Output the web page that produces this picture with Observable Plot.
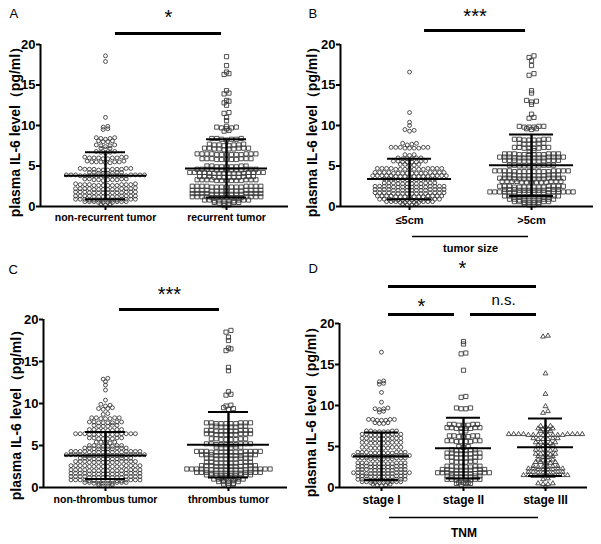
<!DOCTYPE html>
<html><head><meta charset="utf-8">
<script src="https://cdn.jsdelivr.net/npm/d3@7"></script>
<script src="https://cdn.jsdelivr.net/npm/@observablehq/plot@0.6"></script>
<style>
body{margin:0;background:#fff;}
#wrap{position:relative;width:601px;height:544px;overflow:hidden;background:#fff;}
.panel{position:absolute;}
</style></head><body><div id="wrap"></div>
<script>
// ---------- data ----------
const yTicks = [0, 5, 10, 15, 20];
const yLabel = "plasma IL-6 level（pg/ml）";

const categoriesA = ["non-recurrent tumor", "recurrent tumor"];
const categoriesB = ["≤5cm", ">5cm"];
const categoriesC = ["non-thrombus tumor", "thrombus tumor"];
const categoriesD = ["stage I", "stage II", "stage III"];

const meansA = [3.8, 4.7], sdsA = [2.9, 3.6];
const meansB = [3.4, 5.1], sdsB = [2.5, 3.8];
const meansC = [3.8, 5.1], sdsC = [2.8, 3.9];
const meansD = [3.8, 4.8, 4.9], sdsD = [2.9, 3.7, 3.5];

const signifA = [{from: 0, to: 1, label: "*"}];
const signifB = [{from: 0, to: 1, label: "***"}];
const signifC = [{from: 0, to: 1, label: "***"}];
const signifD = [{from: 0, to: 2, label: "*", level: 2}, {from: 0, to: 1, label: "*", level: 1}, {from: 1, to: 2, label: "n.s.", level: 1}];

const groupTitleB = "tumor size";
const groupTitleD = "TNM";

const nonRecurrent = [18.6,17.9,11.0,9.9,9.8,9.6,9.5,
8.5,8.4,8.4,8.5,8.3,8.1,8.0,8.1,8.0,
7.6,7.5,7.5,7.4,7.6,7.2,7.1,7.2,
6.8,6.7,6.7,6.8,6.6,
6.1,6.0,6.0,6.1,5.9,6.0,6.1,5.9,6.0,6.0,
5.5,5.5,5.4,5.6,5.5,5.4,5.5,5.5,5.6,
4.7,4.6,4.6,4.5,4.7,4.6,4.6,4.5,4.7,4.6,4.6,4.5,
4.2,4.1,4.2,4.1,4.2,4.1,4.2,4.1,
3.9,3.8,3.8,3.9,3.8,3.9,3.8,3.8,3.9,3.8,3.9,3.8,3.8,3.8,3.9,3.8,3.8,3.9,
3.4,3.3,3.4,3.3,3.2,3.4,3.3,3.4,3.3,3.3,
2.8,2.7,2.6,2.7,2.6,2.7,2.6,2.7,2.8,2.6,2.7,2.6,2.7,2.6,
2.2,2.1,2.2,2.1,2.2,2.1,2.3,2.2,2.1,2.2,2.1,2.2,2.2,2.1,
1.7,1.8,1.7,1.8,1.7,1.8,1.7,1.7,1.8,1.7,1.8,1.7,1.8,1.7,
1.3,1.2,1.3,1.2,1.3,1.2,1.3,1.2,1.3,1.3,1.2,1.3,1.2,1.3,
0.9,0.8,0.9,0.8,0.9,0.8,0.9,0.8,0.9,0.8,0.9,0.8,0.9,0.8,
0.6,0.5,0.6,0.5,0.6,0.5,0.6,0.5,0.6,0.6,
0.3,0.2,0.3];

const recurrent = [18.5,17.4,16.6,16.3,16.4,14.3,14.0,13.9,13.1,12.8,13.0,12.5,11.6,11.5,11.0,10.6,
9.8,9.7,9.8,9.7,9.6,9.9,9.4,9.3,
8.4,8.3,8.4,8.3,8.2,8.4,8.3,
7.7,7.6,7.6,7.5,7.7,7.6,7.5,7.6,
7.2,7.1,7.2,7.1,7.2,7.1,7.2,7.1,7.2,7.0,
6.5,6.4,6.5,6.4,6.5,6.4,6.5,6.4,6.5,6.4,6.5,6.4,6.5,
5.9,5.8,5.9,5.8,5.9,5.8,5.9,5.8,5.9,5.8,5.9,
5.0,4.9,4.9,5.0,4.9,5.0,4.9,4.9,5.0,
4.6,4.5,4.6,4.5,4.6,4.5,4.6,4.5,4.6,4.5,4.6,4.5,4.6,
4.2,4.1,4.2,4.1,4.2,4.1,4.2,4.1,4.2,4.1,4.2,4.1,4.2,4.1,4.2,4.1,
3.7,3.6,3.7,3.6,3.7,3.6,3.7,3.6,3.7,3.6,3.7,3.6,
3.3,3.2,3.3,3.2,3.3,3.2,3.3,3.2,3.3,3.2,3.3,3.2,3.3,
2.5,2.4,2.5,2.4,2.5,2.4,2.5,2.4,2.5,2.4,2.5,2.4,2.5,2.4,2.5,
2.0,1.9,2.0,1.9,2.0,1.9,2.0,1.9,2.0,1.9,2.0,1.9,2.0,1.9,2.0,
1.6,1.5,1.6,1.5,1.6,1.5,1.6,1.5,1.6,1.5,1.6,1.5,1.6,1.5,1.6,
1.2,1.1,1.2,1.1,1.2,1.1,1.2,1.1,1.2,1.1,1.2,1.1,1.2,1.1,1.2,
0.8,0.7,0.8,0.7,0.8,0.7,0.8,0.7,0.8,0.7,
0.5,0.4,0.5,0.4,0.5,0.4,
0.2,0.1];

const sizeSmall = [16.6,11.6,10.4,10.0,9.5,9.4,9.3,
7.8,7.7,7.8,7.6,
7.3,7.2,7.3,7.2,7.3,7.2,7.3,7.2,7.3,
6.4,6.3,6.4,
6.0,5.9,6.0,5.9,6.0,5.9,
5.6,5.5,5.6,5.5,5.6,5.5,5.6,5.5,
5.2,5.1,5.2,5.1,5.2,
4.7,4.6,4.7,4.6,4.7,4.6,4.7,4.6,4.7,4.6,4.7,4.6,4.7,4.6,4.7,
4.2,4.1,4.2,4.1,4.2,4.1,4.2,4.1,4.2,4.1,4.2,4.1,4.2,4.1,4.2,4.1,
3.8,3.7,3.8,3.7,3.8,3.7,3.8,3.7,3.8,3.7,3.8,3.7,3.8,3.7,3.8,3.7,3.8,
3.4,3.3,3.4,3.3,3.4,3.3,3.4,3.3,3.4,3.3,3.4,3.3,
2.9,2.8,2.9,2.8,2.9,2.8,2.9,2.8,2.9,2.8,2.9,2.8,
2.5,2.4,2.5,2.4,2.5,2.4,2.5,2.4,2.5,2.4,2.5,2.4,2.5,2.4,2.5,2.4,
2.1,2.0,2.1,2.0,2.1,2.0,2.1,2.0,2.1,2.0,2.1,2.0,2.1,2.0,2.1,2.0,
1.7,1.6,1.7,1.6,1.7,1.6,1.7,1.6,1.7,1.6,1.7,1.6,1.7,1.6,1.7,1.6,
1.3,1.2,1.3,1.2,1.3,1.2,1.3,1.2,1.3,1.2,1.3,1.2,1.3,1.2,1.3,
0.9,0.8,0.9,0.8,0.9,0.8,0.9,0.8,0.9,0.8,0.9,0.8,0.9,0.8,
0.6,0.5,0.6,0.5,0.6,0.5,0.6,0.5,0.6,0.5,0.6,
0.3,0.2,0.3,0.2];

const sizeLarge = [18.6,18.4,18.0,17.4,16.4,16.2,14.3,14.0,13.1,12.9,13.0,12.6,11.4,11.0,10.9,
9.9,9.8,9.9,9.8,9.9,9.8,9.6,9.5,9.6,
8.3,8.2,8.3,8.2,8.3,8.2,8.3,8.2,
7.8,7.7,7.8,7.7,7.8,7.7,
7.3,7.2,7.3,7.2,7.3,7.2,7.3,7.2,
6.9,6.8,
6.5,6.4,6.5,6.4,6.5,6.4,6.5,6.4,6.5,6.4,6.5,6.4,
6.1,6.0,6.1,6.0,6.1,6.0,6.1,6.0,6.1,6.0,6.1,6.0,6.1,6.0,
5.7,5.6,5.7,5.6,5.7,5.6,5.7,5.6,5.7,5.6,5.7,5.6,
5.1,5.0,5.1,5.0,5.1,5.0,5.1,5.0,5.1,5.0,
4.4,4.3,4.4,4.3,4.4,4.3,4.4,4.3,4.4,4.3,4.4,4.3,4.4,4.3,4.4,4.3,
3.9,3.8,3.9,3.8,3.9,3.8,3.9,3.8,3.9,3.8,3.9,3.8,
3.5,3.4,3.5,3.4,3.5,3.4,3.5,3.4,3.5,3.4,3.5,3.4,3.5,3.4,
3.1,3.0,3.1,3.0,3.1,3.0,3.1,3.0,3.1,3.0,3.1,3.0,3.1,
2.5,2.4,2.5,2.4,2.5,2.4,2.5,2.4,2.5,2.4,2.5,2.4,2.5,2.4,
2.1,2.0,2.1,2.0,2.1,2.0,2.1,2.0,2.1,2.0,2.1,2.0,
1.8,1.7,1.8,1.7,1.8,1.7,1.8,1.7,1.8,1.7,1.8,1.7,1.8,1.7,1.8,1.7,1.8,1.7,
1.3,1.2,1.3,1.2,1.3,1.2,1.3,1.2,1.3,1.2,1.3,1.2,
0.9,0.8,0.9,0.8,0.9,0.8,0.9,0.8,0.9,0.8,
0.6,0.5,0.6,0.5,0.6,0.5,0.6,0.5,
0.3,0.2,0.3,0.2];

const nonThrombus = [13.0,12.9,12.6,12.2,11.6,10.4,9.9,9.7,9.8,9.4,9.3,9.5,9.4,8.7,8.8,
8.3,8.2,8.3,8.2,8.3,8.2,8.3,
7.8,7.7,7.8,7.7,7.8,7.7,7.8,7.7,
7.4,7.3,7.4,7.3,7.4,7.3,
6.9,6.8,6.9,6.8,6.9,6.8,6.9,6.8,
6.4,6.3,6.4,6.3,6.4,6.3,6.4,6.3,6.4,6.3,6.4,6.3,6.4,6.3,
5.9,5.8,5.9,5.8,5.9,5.8,5.9,5.8,
5.4,5.3,5.4,5.3,5.4,
5.0,4.9,5.0,4.9,5.0,4.9,5.0,4.9,
4.7,4.6,4.7,4.6,4.7,4.6,4.7,4.6,4.7,4.6,
4.3,4.2,4.3,4.2,4.3,4.2,4.3,4.2,4.3,4.2,4.3,4.2,4.3,4.2,4.3,4.2,
3.9,3.8,3.9,3.8,3.9,3.8,3.9,3.8,3.9,3.8,3.9,3.8,3.9,3.8,3.9,3.8,3.9,3.8,
3.5,3.4,3.5,3.4,3.5,3.4,3.5,3.4,3.5,3.4,3.5,3.4,
3.1,3.0,3.1,3.0,3.1,3.0,3.1,3.0,3.1,3.0,3.1,3.0,3.1,3.0,
2.6,2.5,2.6,2.5,2.6,2.5,2.6,2.5,2.6,2.5,2.6,2.5,2.6,2.5,2.6,2.5,
2.1,2.0,2.1,2.0,2.1,2.0,2.1,2.0,2.1,2.0,2.1,2.0,2.1,2.0,2.1,2.0,
1.7,1.6,1.7,1.6,1.7,1.6,1.7,1.6,1.7,1.6,1.7,1.6,1.7,1.6,1.7,1.6,
1.3,1.2,1.3,1.2,1.3,1.2,1.3,1.2,1.3,1.2,1.3,1.2,1.3,1.2,1.3,1.2,
0.9,0.8,0.9,0.8,0.9,0.8,0.9,0.8,0.9,0.8,0.9,0.8,0.9,0.8,0.9,0.8,
0.6,0.5,0.6,0.5,0.6,0.5,0.6,0.5,0.6,0.5,
0.3,0.2,0.3,0.2];

const thrombus = [18.7,18.5,17.9,17.5,16.6,16.3,16.5,14.3,13.9,11.4,11.0,11.1,9.8,9.7,9.5,9.3,9.4,
7.7,7.6,7.7,7.6,7.7,7.6,7.7,7.6,7.7,7.6,
7.3,7.2,7.3,7.2,7.3,7.2,7.3,7.2,
6.8,6.7,6.8,6.7,6.8,6.7,6.8,6.7,6.8,6.7,
6.4,6.3,6.4,6.3,6.4,6.3,6.4,6.3,6.4,6.3,
5.8,5.7,5.8,5.7,5.8,5.7,5.8,5.7,
5.2,5.1,5.2,5.1,5.2,5.1,5.2,5.1,5.2,5.1,
4.8,4.7,4.8,4.7,4.8,4.7,
4.3,4.2,4.3,4.2,4.3,4.2,4.3,4.2,4.3,4.2,4.3,4.2,4.3,4.2,
3.9,3.8,3.9,3.8,3.9,3.8,3.9,3.8,3.9,3.8,3.9,3.8,
3.5,3.4,3.5,3.4,3.5,3.4,3.5,3.4,3.5,3.4,
3.0,2.9,3.0,2.9,3.0,2.9,3.0,2.9,3.0,2.9,
2.6,2.5,2.6,2.5,2.6,2.5,2.6,2.5,2.6,2.5,2.6,2.5,
2.2,2.1,2.2,2.1,2.2,2.1,2.2,2.1,2.2,2.1,2.2,2.1,2.2,2.1,2.2,2.1,2.2,2.1,
1.8,1.7,1.8,1.7,1.8,1.7,1.8,1.7,1.8,1.7,1.8,1.7,1.8,1.7,
1.5,1.4,1.5,1.4,1.5,1.4,1.5,1.4,1.5,1.4,
1.1,1.0,1.1,1.0,1.1,1.0,1.1,1.0,
0.8,0.7,0.8,0.7,0.8,0.7,
0.5,0.4,0.5,0.4,
0.2];

const stageI = [16.5,13.0,12.9,12.6,12.7,11.6,10.4,9.6,9.7,9.6,9.5,9.3,9.2,
8.3,8.2,8.3,8.2,8.3,8.2,8.3,
7.9,7.8,7.9,7.8,
6.9,6.8,6.9,6.8,6.9,6.8,6.9,6.8,
6.5,6.4,6.5,6.4,6.5,6.4,6.5,6.4,6.5,6.4,
6.0,5.9,6.0,5.9,6.0,5.9,6.0,5.9,6.0,5.9,
5.5,5.4,5.5,5.4,5.5,5.4,5.5,5.4,5.5,5.4,
4.9,4.8,4.9,4.8,4.9,4.8,4.9,4.8,4.9,4.8,
4.3,4.2,4.3,4.2,4.3,4.2,4.3,4.2,4.3,4.2,4.3,4.2,
3.9,3.8,3.9,3.8,3.9,3.8,3.9,3.8,3.9,3.8,3.9,3.8,3.9,3.8,
3.6,3.5,3.6,3.5,3.6,3.5,3.6,3.5,3.6,3.5,3.6,3.5,
3.0,2.9,3.0,2.9,3.0,2.9,3.0,2.9,3.0,2.9,3.0,2.9,
2.6,2.5,2.6,2.5,2.6,2.5,2.6,2.5,2.6,2.5,2.6,2.5,
2.2,2.1,2.2,2.1,2.2,2.1,2.2,2.1,2.2,2.1,2.2,2.1,
1.8,1.7,1.8,1.7,1.8,1.7,1.8,1.7,1.8,1.7,1.8,1.7,1.8,1.7,
1.4,1.3,1.4,1.3,1.4,1.3,1.4,1.3,1.4,1.3,1.4,1.3,
1.0,0.9,1.0,0.9,1.0,0.9,1.0,0.9,1.0,0.9,1.0,0.9,
0.7,0.6,0.7,0.6,0.7,0.6,0.7,0.6,0.7,0.6,
0.4,0.3,0.4,0.3,0.2];

const stageII = [17.8,17.5,16.3,16.4,14.3,11.0,11.1,9.7,9.6,9.7,9.6,
7.7,7.6,7.7,7.6,7.7,7.6,7.7,
7.3,7.2,7.3,7.2,7.3,7.2,7.3,7.2,
6.9,6.8,
6.3,6.2,6.3,6.2,6.3,6.2,6.3,
5.7,5.6,5.7,5.6,5.7,5.6,5.7,5.6,
5.0,4.9,5.0,
4.6,4.5,4.6,4.5,4.6,4.5,
4.2,4.1,4.2,4.1,4.2,4.1,4.2,4.1,
3.7,3.6,3.7,3.6,3.7,3.6,3.7,3.6,
3.2,3.1,3.2,3.1,3.2,3.1,
2.6,2.5,2.6,2.5,2.6,2.5,2.6,2.5,
2.2,2.1,2.2,2.1,2.2,2.1,2.2,2.1,2.2,2.1,
1.8,1.7,1.8,1.7,1.8,1.7,1.8,1.7,1.8,1.7,1.8,1.7,
1.4,1.3,1.4,1.3,1.4,1.3,1.4,1.3,
1.0,0.9,1.0,0.9,1.0,0.9,1.0,0.9,
0.6,0.5,0.6,0.5,0.6,0.5,
0.3];

const stageIII = [18.5,18.4,13.9,11.4,9.9,9.3,9.1,
7.5,7.4,7.5,
7.2,7.1,7.2,7.1,
6.9,6.8,6.9,
6.5,6.4,6.5,6.4,6.5,6.4,6.5,6.4,6.5,6.4,6.5,6.4,6.5,6.4,6.5,6.4,
6.0,5.9,6.0,5.9,6.0,5.9,
5.5,5.4,5.5,5.4,5.5,
5.2,5.1,5.2,5.1,
4.6,4.5,4.6,4.5,4.6,
4.1,4.0,4.1,4.0,4.1,
3.8,3.7,3.8,3.7,
3.4,3.3,3.4,3.3,
3.1,3.0,3.1,3.0,3.1,
2.6,2.5,2.6,2.5,2.6,2.5,
2.3,2.2,2.3,2.2,2.3,2.2,2.3,2.2,
1.9,1.8,1.9,1.8,1.9,1.8,1.9,1.8,
1.5,1.4,1.5,1.4,1.5,1.4,1.5,1.4,1.5,1.4,
1.0,1.1,
0.5,0.4,0.5,0.4,
0.1];

// ---------- layout helpers ----------
function swarm(values, center, spacingPx, pxPerX) {
  const sorted = [...values].sort((a, b) => a - b);
  const rows = [];
  let cur = null;
  for (const v of sorted) {
    if (!cur || v > cur.start + 0.25) { cur = {start: v, vals: []}; rows.push(cur); }
    cur.vals.push(v);
  }
  const out = [];
  for (const r of rows) {
    const n = r.vals.length;
    const order = [];
    r.vals.forEach((v, i) => { if (i % 2) order.push(v); else order.unshift(v); });
    order.forEach((v, i) => out.push({x: center + (i - (n - 1) / 2) * spacingPx / pxPerX, y: v}));
  }
  return out;
}

const FONT = "'Liberation Sans', Arial, Helvetica, sans-serif";

function panel(cfg) {
  const fw = cfg.width - cfg.ml - cfg.mr;
  const fh = cfg.height - cfg.mt - cfg.mb;
  const pxX = fw / (cfg.domain[1] - cfg.domain[0]);
  const pxY = fh / 20;
  const up = px => 20 + px / pxY;
  const down = px => -px / pxY;
  const dxu = px => px / pxX;
  const centers = cfg.categories.map((c, i) => i + 1);
  const marks = [];

  cfg.series.forEach((vals, i) => {
    const pts = swarm(vals, centers[i], cfg.spacing[i], pxX);
    marks.push(Plot.dot(pts, {x: "x", y: "y", symbol: cfg.symbols[i], r: cfg.r[i],
      stroke: "#333", strokeWidth: 0.85, fill: "none"}));
  });

  const summary = cfg.means.map((m, i) => ({x: centers[i], mean: m, sd: cfg.sds[i]}));
  marks.push(
    Plot.ruleX(summary, {x: "x", y1: d => d.mean - d.sd, y2: d => d.mean + d.sd, strokeWidth: 2.4, stroke: "#000"}),
    Plot.ruleY(summary, {y: "mean", x1: d => d.x - dxu(cfg.meanHalf), x2: d => d.x + dxu(cfg.meanHalf), strokeWidth: 2, stroke: "#000"}),
    Plot.ruleY(summary, {y: d => d.mean + d.sd, x1: d => d.x - dxu(cfg.sdHalf), x2: d => d.x + dxu(cfg.sdHalf), strokeWidth: 2, stroke: "#000"}),
    Plot.ruleY(summary, {y: d => d.mean - d.sd, x1: d => d.x - dxu(cfg.sdHalf), x2: d => d.x + dxu(cfg.sdHalf), strokeWidth: 2, stroke: "#000"})
  );

  marks.push(
    Plot.ruleY([0], {strokeWidth: 2, stroke: "#000"}),
    Plot.ruleX([cfg.domain[0]], {y1: 0, y2: 20, strokeWidth: 2, stroke: "#000"}),
    Plot.axisY(yTicks, {tickSize: 4, tickPadding: 1, fontSize: 13, strokeWidth: 2, label: null}),
    Plot.axisX(centers, {tickSize: 4, tickPadding: cfg.catPad, fontSize: cfg.catFont, strokeWidth: 2,
      tickFormat: d => cfg.categories[d - 1], label: null}),
    Plot.text([yLabel], {text: d => d, frameAnchor: "left", textAnchor: "middle", lineAnchor: "middle",
      rotate: -90, dx: cfg.labelDx, dy: cfg.labelDy || 0, fontSize: 14})
  );

  cfg.signif.forEach(s => {
    const lvl = s.level || 1;
    const bar = cfg.barPx[lvl - 1], txt = cfg.txtPx[lvl - 1];
    const x1 = centers[s.from] + dxu(cfg.barInset[0]);
    const x2 = centers[s.to] - dxu(cfg.barInset[1]);
    marks.push(
      Plot.ruleY([s], {y: up(bar), x1: () => x1, x2: () => x2, strokeWidth: 3, stroke: "#000"}),
      Plot.text([s], {x: () => (x1 + x2) / 2, y: () => up(s.label === "n.s." ? txt + 6 : txt), text: "label",
        fontSize: s.label === "n.s." ? 15 : 20, fontWeight: "normal"})
    );
  });

  if (cfg.groupTitle) {
    const x1 = centers[0] + dxu(cfg.titleInset[0]);
    const x2 = centers[centers.length - 1] - dxu(cfg.titleInset[1]);
    marks.push(
      Plot.ruleY([cfg.groupTitle], {y: down(30), x1: () => x1, x2: () => x2, strokeWidth: 1.5, stroke: "#000"}),
      Plot.text([cfg.groupTitle], {x: () => (x1 + x2) / 2, y: down(cfg.titlePx), text: d => d, fontSize: cfg.titleFont})
    );
  }

  marks.push(Plot.text([cfg.letter], {text: d => d, frameAnchor: "top-left", textAnchor: "start", lineAnchor: "top",
    dx: cfg.letterPos[0], dy: cfg.letterPos[1], fontSize: 13, fontWeight: "normal"}));

  const svg = Plot.plot({
    width: cfg.width, height: cfg.height,
    marginLeft: cfg.ml, marginRight: cfg.mr, marginTop: cfg.mt, marginBottom: cfg.mb,
    x: {domain: cfg.domain},
    y: {domain: [0, 20]},
    style: {fontFamily: FONT, fontWeight: "bold", color: "#000", background: "transparent", overflow: "visible"},
    marks
  });
  const div = document.createElement("div");
  div.className = "panel";
  div.style.left = cfg.left + "px";
  div.style.top = cfg.top + "px";
  div.appendChild(svg);
  document.getElementById("wrap").appendChild(div);
}

panel({letter: "A", left: 0, top: 0, width: 300, height: 255, ml: 40, mr: 12, mt: 44, mb: 49,
  domain: [0.463, 2.512], categories: categoriesA, series: [nonRecurrent, recurrent],
  means: meansA, sds: sdsA, symbols: ["circle", "square"], r: [1.95, 2.35], spacing: [4.6, 4.9],
  meanHalf: 41, sdHalf: 20, catFont: 10.5, catPad: 3, labelDx: -25, labelDy: 3,
  signif: signifA, barPx: [11], txtPx: [27], barInset: [10, 5], letterPos: [-31, -36]});

panel({letter: "B", left: 300, top: 0, width: 301, height: 255, ml: 40, mr: 8, mt: 44, mb: 49,
  domain: [0.434, 2.508], categories: categoriesB, series: [sizeSmall, sizeLarge],
  means: meansB, sds: sdsB, symbols: ["circle", "square"], r: [1.95, 2.35], spacing: [4.6, 4.9],
  meanHalf: 42, sdHalf: 22, catFont: 11, catPad: 6, labelDx: -28, labelDy: 3,
  signif: signifB, barPx: [14], txtPx: [28], barInset: [15, 6], letterPos: [-32, -36],
  groupTitle: groupTitleB, titleInset: [3, 3], titlePx: 42, titleFont: 11});

panel({letter: "C", left: 0, top: 255, width: 300, height: 289, ml: 43, mr: 13, mt: 64, mb: 57,
  domain: [0.496, 2.480], categories: categoriesC, series: [nonThrombus, thrombus],
  means: meansC, sds: sdsC, symbols: ["circle", "square"], r: [1.95, 2.35], spacing: [4.6, 4.9],
  meanHalf: 41, sdHalf: 20, catFont: 10.5, catPad: 4, labelDx: -27, labelDy: 8,
  signif: signifC, barPx: [10], txtPx: [25], barInset: [14, 9], letterPos: [-35, -55]});

panel({letter: "D", left: 300, top: 255, width: 301, height: 289, ml: 39, mr: 14, mt: 68, mb: 57,
  domain: [0.488, 3.512], categories: categoriesD, series: [stageI, stageII, stageIII],
  means: meansD, sds: sdsD, symbols: ["circle", "square", "triangle"], r: [1.95, 2.35, 1.8], spacing: [4.3, 4.7, 4.9],
  meanHalf: 28, sdHalf: 17, catFont: 12, catPad: 4, labelDx: -28, labelDy: 3,
  signif: signifD, barPx: [9, 37], txtPx: [17, 55], barInset: [7, 9], letterPos: [-31, -60],
  groupTitle: groupTitleD, titleInset: [8, 7], titlePx: 46, titleFont: 12});
</script></body></html>
